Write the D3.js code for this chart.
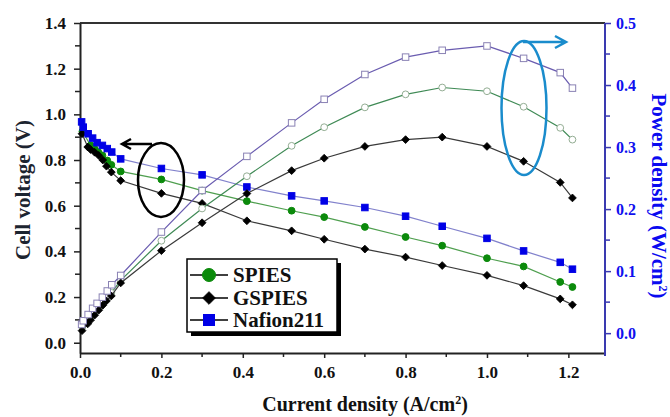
<!DOCTYPE html>
<html>
<head>
    <title>Polarization curves</title>
    <script src="https://d3js.org/d3.v7.min.js"></script>
    <style>
        body {
            margin: 0;
            padding: 0;
            background-color: #fff;
        }
    </style>
</head>
<body>
    <svg id="chart" width="670" height="417" font-family="'Liberation Serif', 'DejaVu Serif', serif" font-weight="bold"></svg>

    <script>
        // data
        const seriesNames = ["SPIES", "GSPIES", "Nafion211"];

        const currentSPIES = [0.006, 0.026, 0.036, 0.045, 0.055, 0.067, 0.077, 0.1, 0.2, 0.3, 0.41, 0.52, 0.6, 0.7, 0.8, 0.89, 1.0, 1.09, 1.18, 1.21];
        const voltageSPIES = [0.925, 0.864, 0.849, 0.834, 0.820, 0.798, 0.779, 0.750, 0.715, 0.666, 0.620, 0.578, 0.550, 0.507, 0.463, 0.425, 0.370, 0.334, 0.266, 0.244];
        const powerSPIES = [0.010, 0.025, 0.033, 0.040, 0.048, 0.057, 0.065, 0.085, 0.149, 0.201, 0.253, 0.302, 0.332, 0.364, 0.385, 0.396, 0.390, 0.365, 0.331, 0.312];

        const currentGSPIES = [0.005, 0.019, 0.026, 0.036, 0.046, 0.056, 0.065, 0.077, 0.1, 0.2, 0.3, 0.41, 0.52, 0.6, 0.7, 0.8, 0.89, 1.0, 1.09, 1.18, 1.21];
        const voltageGSPIES = [0.915, 0.857, 0.846, 0.834, 0.820, 0.800, 0.773, 0.747, 0.710, 0.654, 0.610, 0.534, 0.490, 0.453, 0.410, 0.375, 0.338, 0.295, 0.250, 0.192, 0.166];
        const powerGSPIES = [0.004, 0.015, 0.021, 0.029, 0.037, 0.045, 0.052, 0.060, 0.081, 0.133, 0.178, 0.225, 0.262, 0.282, 0.301, 0.312, 0.316, 0.301, 0.277, 0.243, 0.218];

        const currentNafion = [0.004, 0.008, 0.02, 0.031, 0.042, 0.055, 0.067, 0.078, 0.1, 0.2, 0.3, 0.41, 0.52, 0.6, 0.7, 0.8, 0.89, 1.0, 1.09, 1.18, 1.21];
        const voltageNafion = [0.967, 0.944, 0.915, 0.896, 0.876, 0.864, 0.850, 0.835, 0.805, 0.763, 0.735, 0.682, 0.643, 0.621, 0.592, 0.554, 0.510, 0.457, 0.402, 0.352, 0.322];
        const powerNafion = [0.014, 0.020, 0.030, 0.040, 0.048, 0.058, 0.068, 0.078, 0.093, 0.163, 0.230, 0.285, 0.339, 0.377, 0.417, 0.445, 0.456, 0.463, 0.443, 0.420, 0.395];

        const xTicks = [0, 0.2, 0.4, 0.6, 0.8, 1.0, 1.2];
        const voltageTicks = [0, 0.2, 0.4, 0.6, 0.8, 1.0, 1.2, 1.4];
        const powerTicks = [0, 0.1, 0.2, 0.3, 0.4, 0.5];

        const plotLeft = 80, plotRight = 605, plotTop = 23, plotBottom = 353;
        const serif = "'Liberation Serif', 'DejaVu Serif', serif";
        const svg = d3.select("#chart");

        const x = d3.scaleLinear().domain([0, 1.29]).range([plotLeft, plotRight]);
        const yV = d3.scaleLinear().domain([-0.045, 1.4]).range([plotBottom, plotTop]);
        const yP = d3.scaleLinear().domain([-0.032, 0.5]).range([plotBottom, plotTop]);

        function zip(cur, val) {
            return cur.map((c, i) => ({ x: c, y: val[i] }));
        }

        // series styles
        const series = [
            { name: "SPIES", cur: currentSPIES, v: voltageSPIES, p: powerSPIES,
              vLine: "#4f9f4f", pLine: "#3f8a55", fill: "#0b8a0b", open: "#93ad93", shape: "circle" },
            { name: "GSPIES", cur: currentGSPIES, v: voltageGSPIES, p: powerGSPIES,
              vLine: "#3a3a3a", pLine: "#3a3a3a", fill: "#000", open: "#000", shape: "diamond" },
            { name: "Nafion211", cur: currentNafion, v: voltageNafion, p: powerNafion,
              vLine: "#8282cc", pLine: "#6a5cb0", fill: "#0000e6", open: "#8a82b4", shape: "square" }
        ];

        function drawMarker(g, shape, cx, cy, fill, stroke, big) {
            if (shape == "circle") {
                g.append("circle").attr("cx", cx).attr("cy", cy)
                    .attr("r", big ? 6.5 : 3.4)
                    .attr("fill", fill).attr("stroke", stroke).attr("stroke-width", 1);
            } else if (shape == "square") {
                const s = big ? 11 : 6.5;
                g.append("rect").attr("x", cx - s / 2).attr("y", cy - s / 2)
                    .attr("width", s).attr("height", s)
                    .attr("fill", fill).attr("stroke", stroke).attr("stroke-width", 1);
            } else {
                const s = big ? 9 : 5.5;
                g.append("rect").attr("x", -s / 2).attr("y", -s / 2)
                    .attr("width", s).attr("height", s)
                    .attr("transform", "translate(" + cx + "," + cy + ") rotate(45)")
                    .attr("fill", fill).attr("stroke", stroke).attr("stroke-width", 0.8);
            }
        }

        // frame: top border
        svg.append("line").attr("x1", plotLeft).attr("x2", plotRight).attr("y1", plotTop).attr("y2", plotTop)
            .attr("stroke", "#333").attr("stroke-width", 2);

        // bottom axis
        const xAxis = d3.axisBottom(x).tickValues(xTicks).tickFormat(d3.format(".1f"))
            .tickSize(5).tickSizeOuter(0);
        const gx = svg.append("g").attr("transform", "translate(0," + plotBottom + ")").call(xAxis);
        gx.attr("font-family", serif);
        gx.select(".domain").attr("stroke", "#222").attr("stroke-width", 2);
        gx.selectAll(".tick line").attr("stroke", "#222").attr("stroke-width", 1.5);
        gx.selectAll(".tick text").attr("font-size", 17).attr("fill", "#111").attr("dy", "1.0em");
        gx.selectAll(".minor").data(d3.range(0.1, 1.25, 0.2)).enter().append("line")
            .attr("x1", d => x(d)).attr("x2", d => x(d)).attr("y1", 0).attr("y2", 4)
            .attr("stroke", "#222").attr("stroke-width", 1.5);

        // left axis (voltage)
        const yAxisL = d3.axisLeft(yV).tickValues(voltageTicks).tickFormat(d3.format(".1f"))
            .tickSize(6).tickSizeOuter(0);
        const gl = svg.append("g").attr("transform", "translate(" + plotLeft + ",0)").call(yAxisL);
        gl.attr("font-family", serif);
        gl.select(".domain").attr("stroke", "#222").attr("stroke-width", 2);
        gl.selectAll(".tick line").attr("stroke", "#222").attr("stroke-width", 1.5);
        gl.selectAll(".tick text").attr("font-size", 17).attr("fill", "#111").attr("x", -14);
        gl.selectAll(".minor").data(d3.range(0.1, 1.35, 0.2)).enter().append("line")
            .attr("x1", -5).attr("x2", 0).attr("y1", d => yV(d)).attr("y2", d => yV(d))
            .attr("stroke", "#222").attr("stroke-width", 1.5);

        // right axis (power)
        const yAxisR = d3.axisRight(yP).tickValues(powerTicks).tickFormat(d3.format(".1f"))
            .tickSize(6).tickSizeOuter(0);
        const gr = svg.append("g").attr("transform", "translate(" + plotRight + ",0)").call(yAxisR);
        gr.attr("font-family", serif);
        gr.select(".domain").attr("stroke", "#3a3ab0").attr("stroke-width", 2)
            .attr("d", "M0," + plotTop + "V" + (plotBottom + 3));
        gr.selectAll(".tick line").attr("stroke", "#3a3ab0").attr("stroke-width", 1.5);
        gr.selectAll(".tick text").attr("font-size", 16).attr("fill", "#1010ee").attr("x", 11);
        gr.selectAll(".minor").data(d3.range(0.05, 0.5, 0.1)).enter().append("line")
            .attr("x1", 0).attr("x2", 5).attr("y1", d => yP(d)).attr("y2", d => yP(d))
            .attr("stroke", "#3a3ab0").attr("stroke-width", 1.5);

        // axis titles
        svg.append("text").attr("x", 365).attr("y", 411).attr("text-anchor", "middle")
            .attr("font-size", 20).attr("fill", "#111")
            .html('Current density (A/cm<tspan baseline-shift="super" font-size="12">2</tspan>)');
        svg.append("text").attr("transform", "translate(30,190) rotate(-90)")
            .attr("text-anchor", "middle").attr("font-size", 21).attr("fill", "#1c2430")
            .text("Cell voltage (V)");
        svg.append("text").attr("transform", "translate(652,196) rotate(90)")
            .attr("text-anchor", "middle").attr("font-size", 21).attr("fill", "#0a0af0")
            .html('Power density (W/cm<tspan baseline-shift="super" font-size="12">2</tspan>)');

        const line = d3.line().x(d => x(d.x));

        // voltage curves
        series.forEach(s => {
            const pts = zip(s.cur, s.v);
            svg.append("path").datum(pts)
                .attr("d", line.y(d => yV(d.y)))
                .attr("fill", "none").attr("stroke", s.vLine).attr("stroke-width", 1.2);
            const g = svg.append("g");
            pts.forEach(d => drawMarker(g, s.shape, x(d.x), yV(d.y), s.fill, s.fill, false));
        });

        // power curves
        series.forEach(s => {
            const pts = zip(s.cur, s.p);
            svg.append("path").datum(pts)
                .attr("d", line.y(d => yP(d.y)))
                .attr("fill", "none").attr("stroke", s.pLine).attr("stroke-width", 1.2);
            const g = svg.append("g");
            const fill = s.shape == "diamond" ? "#000" : "#fff";
            pts.forEach(d => drawMarker(g, s.shape, x(d.x), yP(d.y), fill, s.open, false));
        });

        // black ellipse with arrow pointing to the voltage axis
        svg.append("ellipse").attr("cx", 161).attr("cy", 180).attr("rx", 23).attr("ry", 37)
            .attr("fill", "none").attr("stroke", "#000").attr("stroke-width", 2.5);
        svg.append("path").attr("d", "M152,144 L122,144 M131,139 L122,144 L131,149")
            .attr("fill", "none").attr("stroke", "#000").attr("stroke-width", 2.5);

        // blue ellipse with arrow pointing to the power axis
        svg.append("ellipse").attr("cx", 524).attr("cy", 108).attr("rx", 22.5).attr("ry", 67)
            .attr("fill", "none").attr("stroke", "#1a8ccc").attr("stroke-width", 2.5);
        svg.append("path").attr("d", "M523,42 L566,42 M555,36 L566,42 L555,48")
            .attr("fill", "none").attr("stroke", "#1a8ccc").attr("stroke-width", 2.5);

        // legend
        const lg = svg.append("g");
        lg.append("rect").attr("x", 191).attr("y", 263).attr("width", 150).attr("height", 73).attr("fill", "#000");
        lg.append("rect").attr("x", 187).attr("y", 259).attr("width", 150).attr("height", 73)
            .attr("fill", "#fff").attr("stroke", "#000").attr("stroke-width", 1.5);
        const legendRows = [275, 298, 320];
        series.forEach((s, i) => {
            const ly = legendRows[i];
            lg.append("line").attr("x1", 190).attr("x2", 228).attr("y1", ly).attr("y2", ly)
                .attr("stroke", "#000").attr("stroke-width", 1.5);
            drawMarker(lg, s.shape, 209, ly, s.fill, s.fill, true);
            lg.append("text").attr("x", 233).attr("y", ly + 7).attr("font-size", 21)
                .attr("fill", "#111").text(seriesNames[i]);
        });
    </script>
</body>
</html>
